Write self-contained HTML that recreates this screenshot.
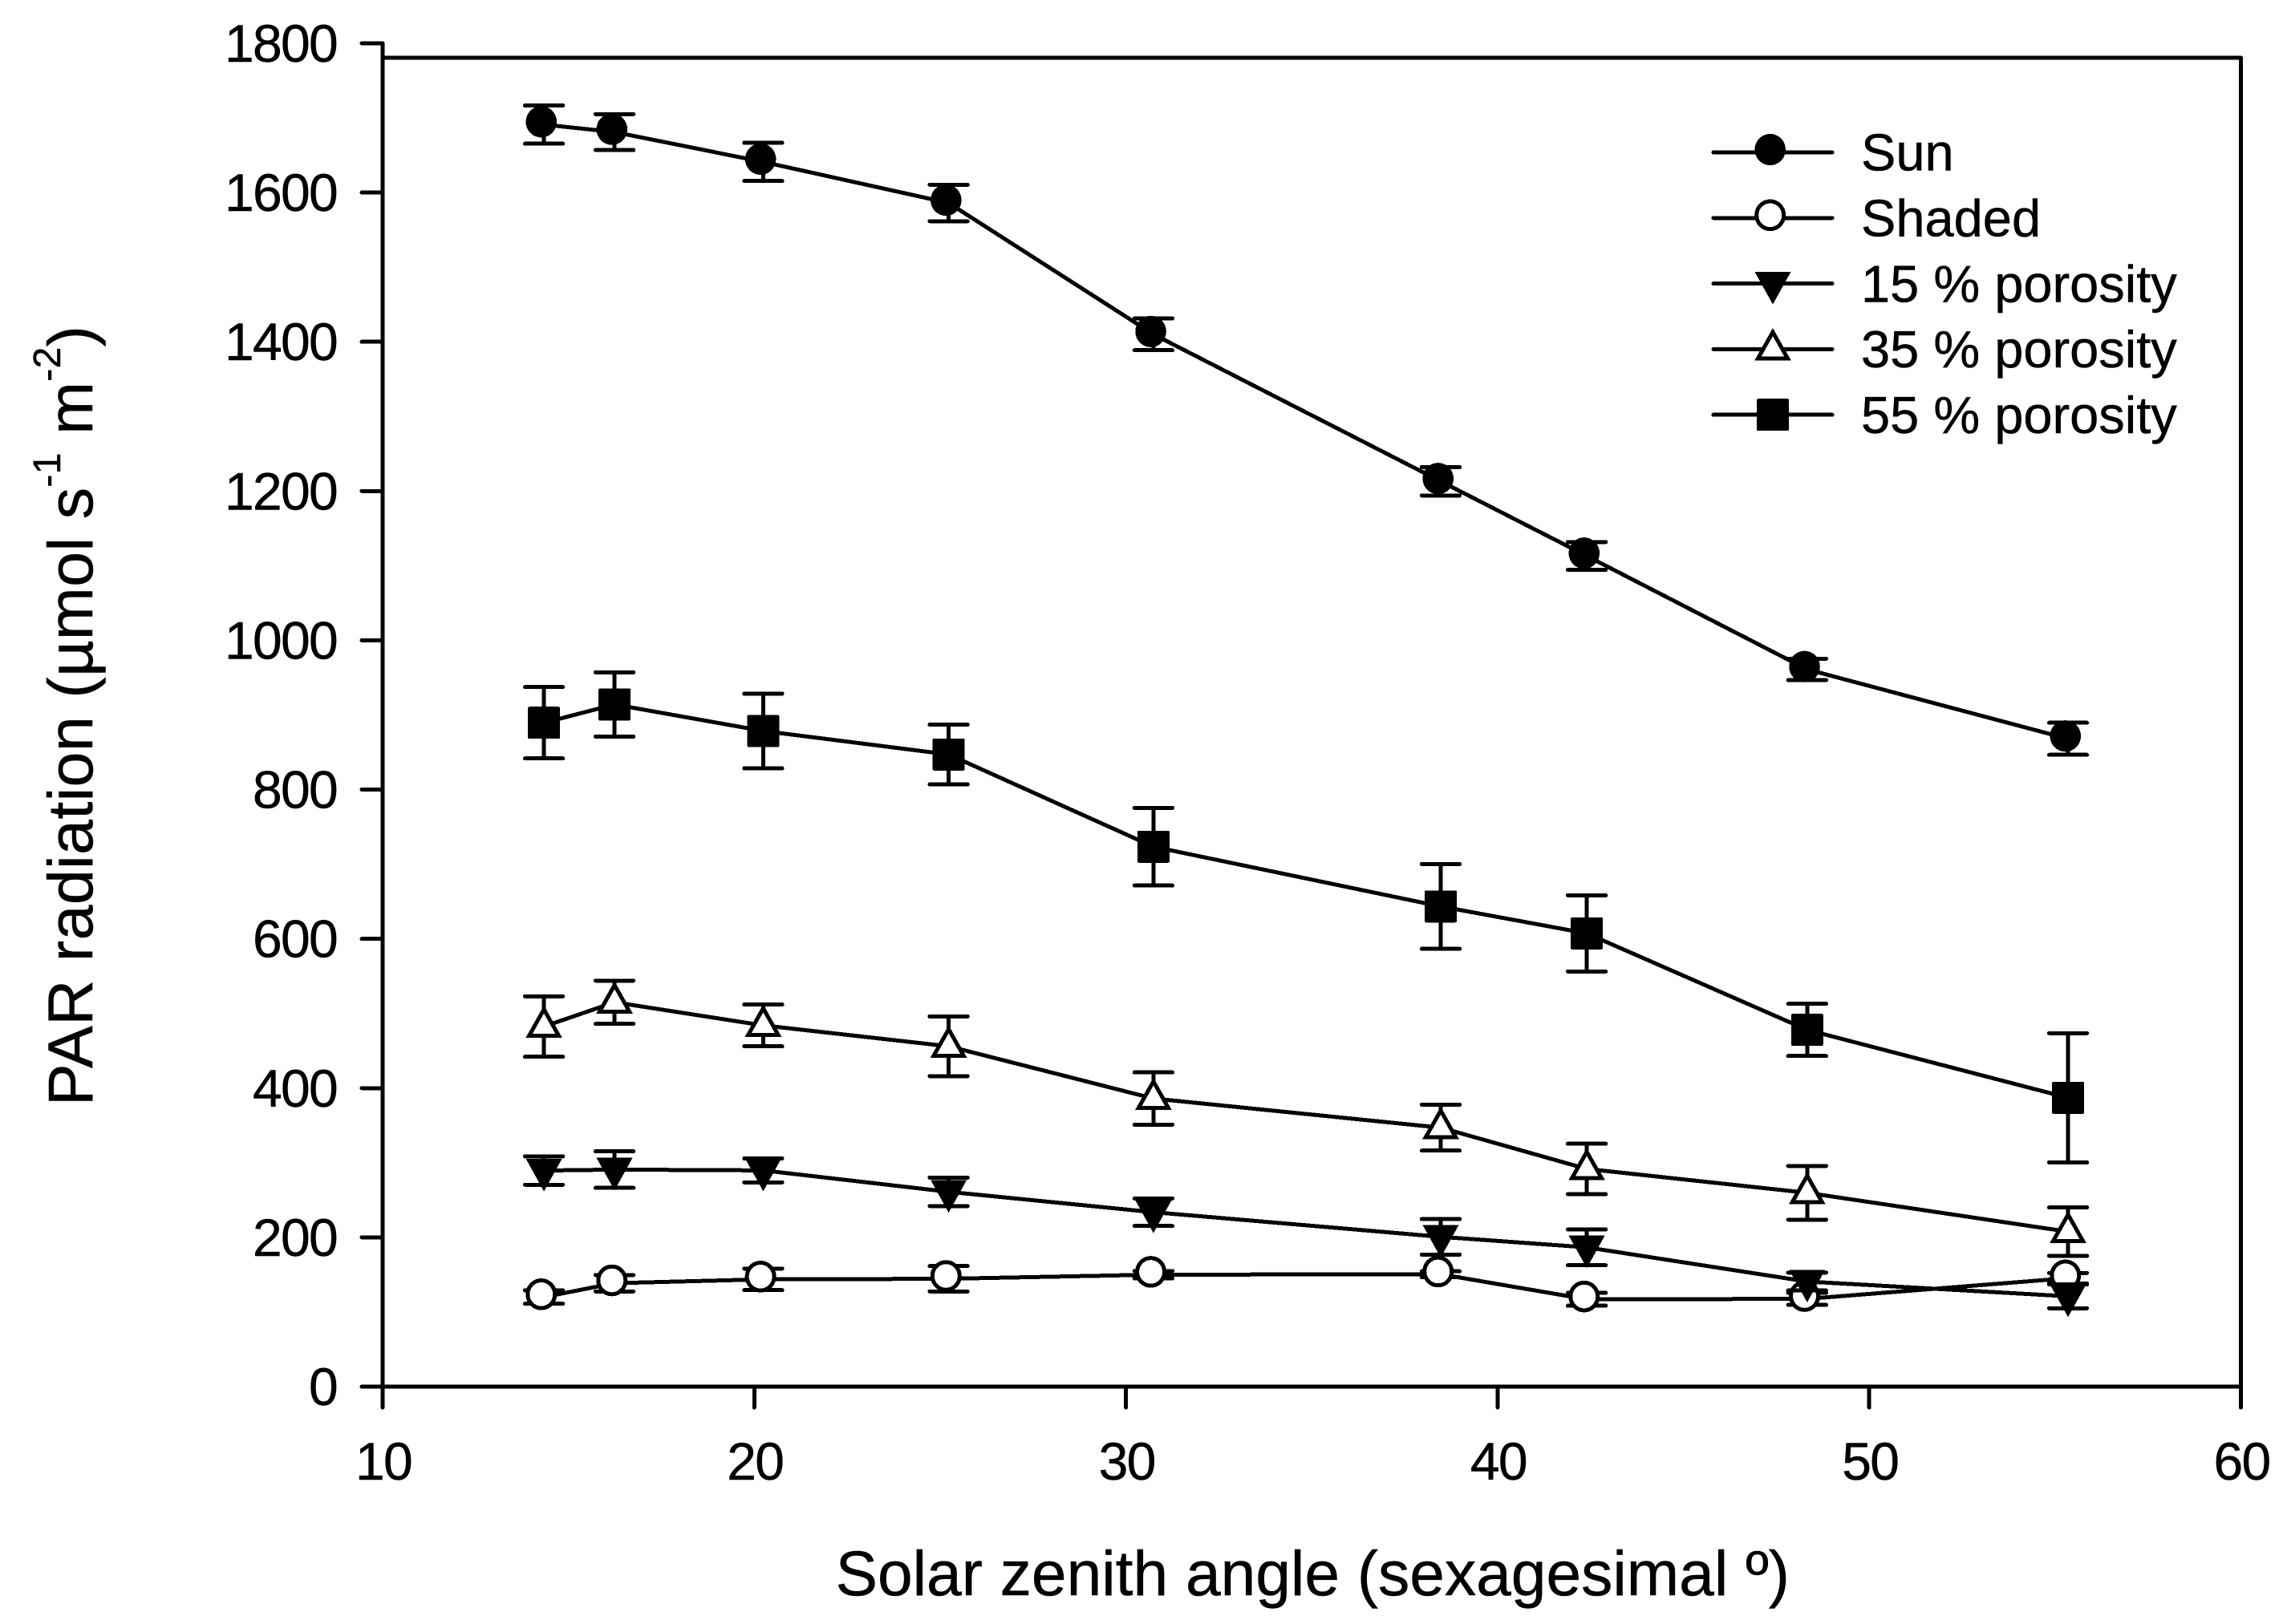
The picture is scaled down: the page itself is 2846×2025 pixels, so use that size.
<!DOCTYPE html>
<html lang="en">
<head>
<meta charset="utf-8">
<title>PAR radiation vs solar zenith angle</title>
<style>
  html, body { margin: 0; padding: 0; background: #fff; }
  svg { display: block; }
  text { font-family: "Liberation Sans", Arial, sans-serif; fill: #000; stroke: #000; stroke-width: 0.5px; }
</style>
</head>
<body>
<svg id="chart" xmlns="http://www.w3.org/2000/svg" width="2846" height="2025" viewBox="0 0 2846 2025">
  <rect x="0" y="0" width="2846" height="2025" fill="#fff"/>
  <g id="axes" shape-rendering="crispEdges"></g>
  <g id="plot" shape-rendering="crispEdges"></g>
  <g id="legend" shape-rendering="crispEdges"></g>
  <text x="1041.6" y="1989" font-size="78.5">Solar zenith angle (sexagesimal º)</text>
  <text transform="translate(115 1379) rotate(-90)" font-size="79" letter-spacing="0.35">PAR radiation (µmol s<tspan dy="-40" font-size="48">-1</tspan><tspan dy="40"> m</tspan><tspan dy="-40" font-size="48">-2</tspan><tspan dy="40">)</tspan></text>
</svg>
<script>
const xTickValues = [10, 20, 30, 40, 50, 60];
const yTickValues = [0, 200, 400, 600, 800, 1000, 1200, 1400, 1600, 1800];
const zenithAngles = [14.34, 16.24, 20.24, 25.23, 30.74, 38.47, 42.4, 48.33, 55.35];

const sunMean = [1691, 1681, 1641, 1586, 1410, 1213, 1113, 961, 868];
const sunError = [25.6, 24, 25.6, 24.4, 21.3, 19, 18.6, 14.3, 21.5];
const shadedMean = [120, 138.6, 143.7, 144.5, 150, 150.5, 117, 117.6, 145.3];
const shadedError = [9, 11, 14.4, 17, 5, 4, 8.6, 8, 7];
const porosity15Mean = [289.5, 290.8, 289.7, 261, 233.7, 200.7, 186.6, 140.8, 121];
const porosity15Error = [19, 24.5, 16, 19, 18.5, 23.8, 24, 12, 16];
const porosity35Mean = [482.5, 515, 484, 456, 386, 347, 291.7, 259.7, 207.6];
const porosity35Error = [40.5, 29, 28, 40, 35, 30.8, 33.8, 36, 32.4];
const porosity55Mean = [889.5, 914, 878.5, 847, 723.4, 643.4, 607.3, 478, 387];
const porosity55Error = [47.8, 43, 50, 40, 52, 56.8, 51, 35, 86.6];

const seriesList = [
  { key: 'sun', label: 'Sun', mean: sunMean, error: sunError, marker: 'filled-circle' },
  { key: 'shaded', label: 'Shaded', mean: shadedMean, error: shadedError, marker: 'open-circle' },
  { key: 'porosity-15', label: '15 % porosity', mean: porosity15Mean, error: porosity15Error, marker: 'filled-triangle-down' },
  { key: 'porosity-35', label: '35 % porosity', mean: porosity35Mean, error: porosity35Error, marker: 'open-triangle-up' },
  { key: 'porosity-55', label: '55 % porosity', mean: porosity55Mean, error: porosity55Error, marker: 'filled-square' }
];

const NS = 'http://www.w3.org/2000/svg';
const LEFT = 477, RIGHT = 2793.5, BOTTOM = 1729, FRAME_TOP = 72;
const TICK_LEFT = 451, TICK_BOTTOM = 1755;
const STROKE = 5;
function xScale(v) { return LEFT + (v - 10) * (RIGHT - LEFT) / 50; }
function yScale(v) { return BOTTOM - v * 0.9306; }

function make(tag, attrs, parent) {
  const el = document.createElementNS(NS, tag);
  for (const k in attrs) el.setAttribute(k, attrs[k]);
  parent.appendChild(el);
  return el;
}

function drawMarker(kind, x, y, parent, name) {
  let el;
  if (kind === 'filled-circle') {
    el = make('ellipse', { cx: x - 3.3, cy: y - 3.5, rx: 19.3, ry: 19.6, fill: '#000' }, parent);
  } else if (kind === 'open-circle') {
    el = make('ellipse', { cx: x - 3.3, cy: y - 3.5, rx: 17, ry: 17.3, fill: '#fff', stroke: '#000', 'stroke-width': STROKE }, parent);
  } else if (kind === 'filled-triangle-down') {
    const pts = [[x - 22.5, y - 14.7], [x + 22.5, y - 14.7], [x, y + 26]];
    el = make('polygon', { points: pts.join(' '), fill: '#000' }, parent);
  } else if (kind === 'open-triangle-up') {
    const pts = [[x, y - 21.3], [x + 18.6, y + 11.7], [x - 18.6, y + 11.7]];
    el = make('polygon', { points: pts.join(' '), fill: '#fff', stroke: '#000', 'stroke-width': STROKE, 'stroke-miterlimit': 8 }, parent);
  } else {
    el = make('rect', { x: x - 20, y: y - 20, width: 40, height: 40, rx: 2, fill: '#000' }, parent);
  }
  
  
}

const axes = document.getElementById('axes');
const plot = document.getElementById('plot');
const legend = document.getElementById('legend');
const lineStyle = { stroke: '#000', 'stroke-width': STROKE, 'stroke-linecap': 'round', fill: 'none' };

const leftAxis = make('line', Object.assign({ x1: LEFT, y1: yScale(1800), x2: LEFT, y2: TICK_BOTTOM }, lineStyle), axes);



const bottomAxis = make('line', Object.assign({ x1: LEFT, y1: BOTTOM, x2: RIGHT, y2: BOTTOM }, lineStyle), axes);



const topFrame = make('line', Object.assign({ x1: LEFT, y1: FRAME_TOP, x2: RIGHT, y2: FRAME_TOP }, lineStyle), axes);



const rightFrame = make('line', Object.assign({ x1: RIGHT, y1: FRAME_TOP, x2: RIGHT, y2: TICK_BOTTOM }, lineStyle), axes);



yTickValues.forEach(function (v) {
  const tick = make('line', Object.assign({ x1: TICK_LEFT, y1: yScale(v), x2: LEFT, y2: yScale(v) }, lineStyle), axes);
  
  
  const label = make('text', { x: 420, y: yScale(v) + 23, 'font-size': 66, 'text-anchor': 'end', 'letter-spacing': -1.7 }, axes);
  label.textContent = String(v);
  
  
});

xTickValues.forEach(function (v) {
  const tick = make('line', Object.assign({ x1: xScale(v), y1: BOTTOM, x2: xScale(v), y2: TICK_BOTTOM }, lineStyle), axes);
  
  
  const label = make('text', { x: xScale(v) + 1, y: 1845, 'font-size': 66, 'text-anchor': 'middle', 'letter-spacing': -1.7 }, axes);
  label.textContent = String(v);
  
  
});

seriesList.forEach(function (s) {
  const group = make('g', {}, plot);
  
  

  const pts = zenithAngles.map(function (a, i) { return [xScale(a), yScale(s.mean[i])]; });
  const path = make('polyline', { points: pts.join(' '), fill: 'none', stroke: '#000', 'stroke-width': STROKE, 'stroke-linejoin': 'round' }, group);
  
  

  zenithAngles.forEach(function (a, i) {
    const x = xScale(a);
    const hi = yScale(s.mean[i] + s.error[i]);
    const lo = yScale(s.mean[i] - s.error[i]);
    const d = 'M' + x + ' ' + hi + 'V' + lo + 'M' + (x - 23.7) + ' ' + hi + 'H' + (x + 23.7) + 'M' + (x - 23.7) + ' ' + lo + 'H' + (x + 23.7);
    const bar = make('path', { d: d, fill: 'none', stroke: '#000', 'stroke-width': STROKE, 'stroke-linecap': 'round' }, group);
    
    
  });

  zenithAngles.forEach(function (a, i) {
    drawMarker(s.marker, xScale(a), yScale(s.mean[i]), group, s.key + '-marker');
  });
});

seriesList.forEach(function (s, i) {
  const rowY = 190 + i * 81.8;
  const row = make('g', {}, legend);
  
  

  const sample = make('line', Object.assign({ x1: 2136, y1: rowY, x2: 2284, y2: rowY }, lineStyle), row);
  
  

  drawMarker(s.marker, 2210, rowY, row, 'legend-marker-' + s.key);

  const label = make('text', { x: 2320, y: rowY + 22.7, 'font-size': 65 }, row);
  label.textContent = s.label;
  
  
});
</script>
</body>
</html>
